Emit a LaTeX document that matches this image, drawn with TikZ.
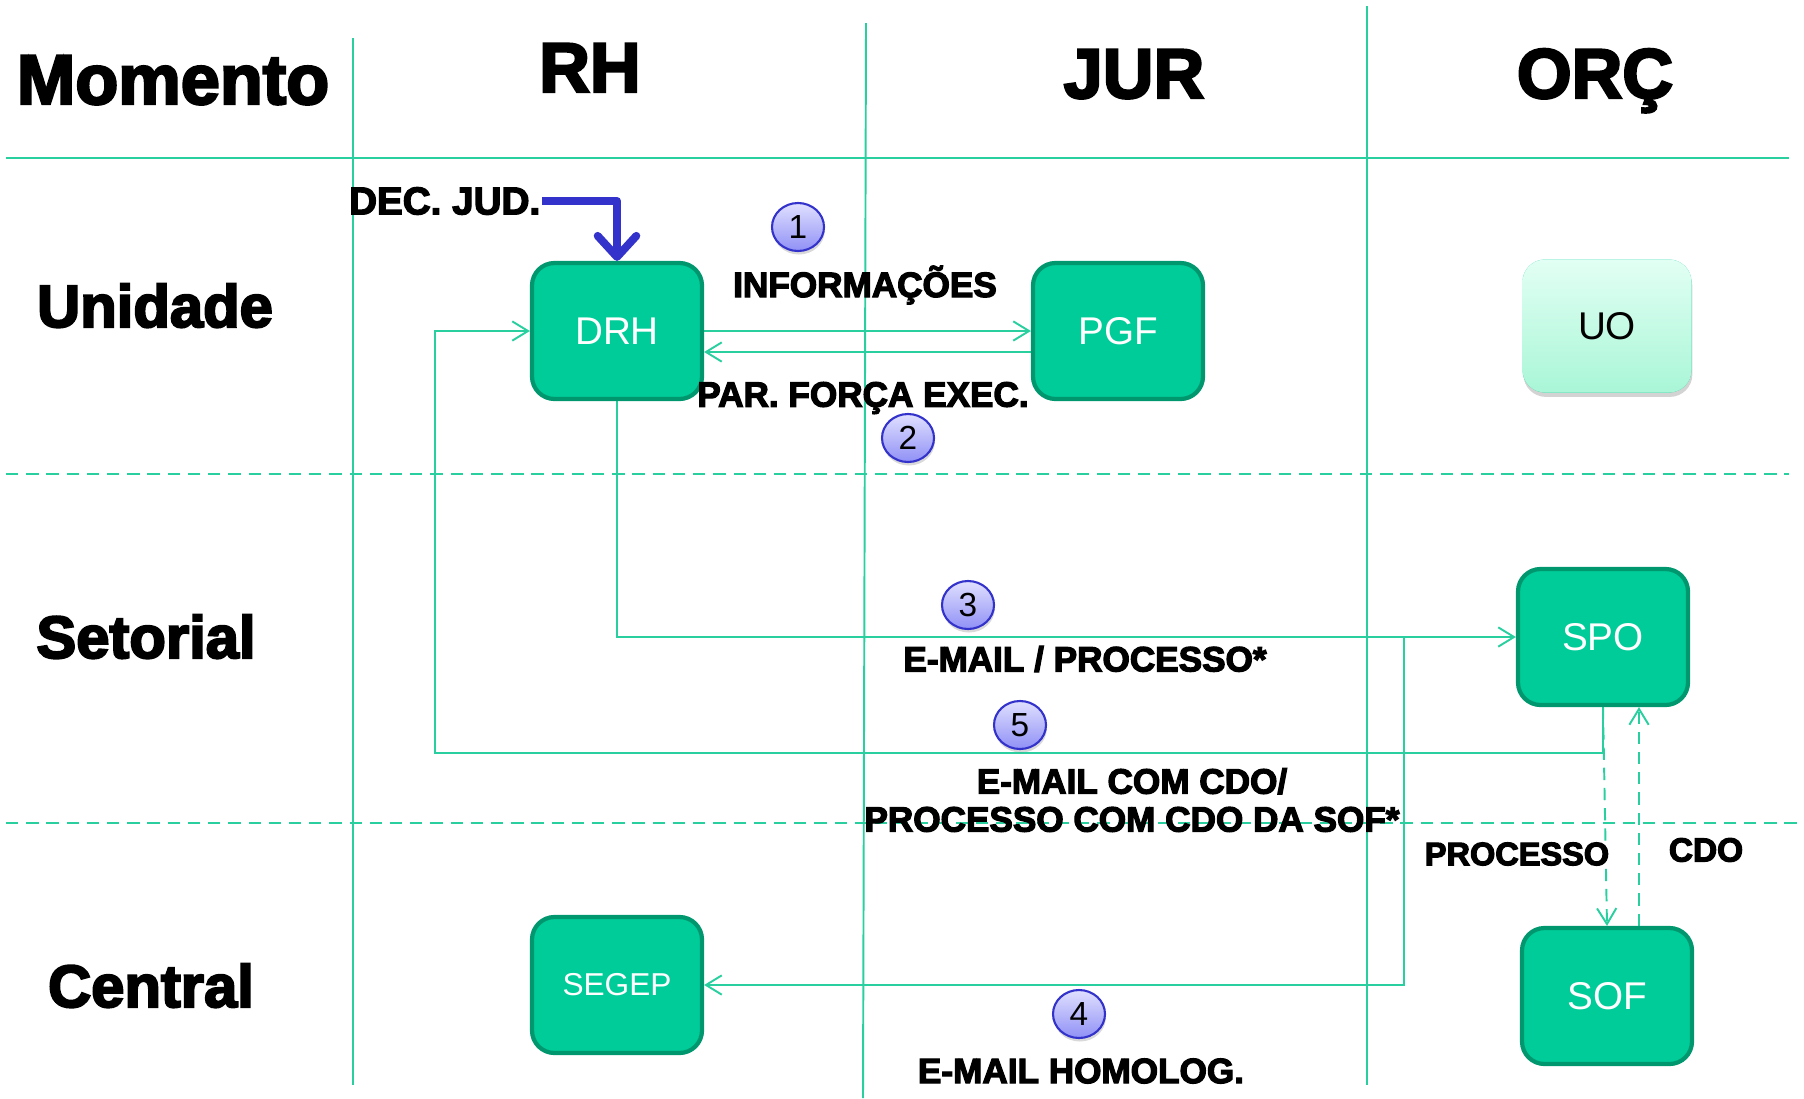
\documentclass[tikz,border=0pt]{standalone}
\usepackage{fontspec}
\setmainfont{Liberation Sans}
\newfontfamily\blackfont[FakeBold=3.5]{Liberation Sans Bold}
\usetikzlibrary{arrows.meta,shapes.geometric,shadows,backgrounds}
\definecolor{lanecolor}{HTML}{2ACF9F}
\definecolor{boxfill}{HTML}{00CC99}
\definecolor{boxline}{HTML}{00976E}
\definecolor{decblue}{HTML}{3333CC}
\definecolor{numtop}{HTML}{E0E0FF}
\definecolor{numbottom}{HTML}{9090F6}
\definecolor{uotop}{HTML}{E2FFF4}
\definecolor{uobottom}{HTML}{A9F6D7}
\newcommand{\thinline}{1.1pt}
\tikzset{
  lane/.style={draw=lanecolor, line width=\thinline},
  lanedash/.style={dash pattern=on 7pt off 4.5pt},
  flow/.style={draw=lanecolor, line width=\thinline, -{Straight Barb[length=9pt,width=11pt]}},
  procbox/.style={draw=boxline, fill=boxfill, line width=2.4pt, rounded corners=0.45cm,
    minimum width=3.4cm, minimum height=2.72cm, text=white, font=\fontsize{22}{24}\selectfont},
  stepnum/.style={ellipse, draw=decblue, line width=1.2pt, top color=numtop, bottom color=numbottom,
    minimum width=1.04cm, minimum height=0.96cm, inner sep=0pt,
    drop shadow={shadow xshift=0.5pt, shadow yshift=-2pt, opacity=0.3},
    font=\fontsize{19}{20}\selectfont},
  head/.style={font=\blackfont\fontsize{40}{44}\selectfont, anchor=base},
  rowname/.style={font=\blackfont\fontsize{34}{38}\selectfont, anchor=base},
  lbl/.style={font=\blackfont\fontsize{20}{21.6}\selectfont, align=center, inner sep=1pt}
}

\begin{document}
\begin{tikzpicture}
\useasboundingbox (0,0) rectangle (36.08,-21.96);
%heads
\node[head] (momento) at (3.46, -2.08) {Momento};
\node[head] (rh) at (11.80, -1.84) {RH};
\node[head] (jur) at (22.68, -1.96) {JUR};
\node[head] (orc) at (31.90, -1.96) {ORÇ};
\node[rowname] (unidade) at (3.10, -6.54) {Unidade};
\node[rowname] (setorial) at (2.92, -13.16) {Setorial};
\node[rowname] (central) at (3.02, -20.14) {Central};
%boxes
\node[procbox] (drh) at (12.34, -6.62) {DRH};
\node[procbox] (pgf) at (22.36, -6.62) {PGF};
\node[procbox] (spo) at (32.06, -12.74) {SPO};
\node[procbox, font=\fontsize{18}{20}\selectfont] (segep) at (12.34, -19.70) {SEGEP};
\node[procbox] (sof) at (32.14, -19.92) {SOF};
\node[procbox, draw=none, top color=uotop, bottom color=uobottom, text=black,
  minimum width=3.38cm, minimum height=2.66cm,
  drop shadow={shadow xshift=0.5pt, shadow yshift=-2.5pt, opacity=0.35}] (uo) at (32.14, -6.52) {UO};
%numbers
\node[stepnum] (c1) at (15.96, -4.54) {1};
\node[stepnum] (c2) at (18.16, -8.76) {2};
\node[stepnum] (c3) at (19.36, -12.10) {3};
\node[stepnum] (c4) at (21.58, -20.28) {4};
\node[stepnum] (c5) at (20.40, -14.50) {5};
%labels
\node[lbl, font=\blackfont\fontsize{22}{24}\selectfont, anchor=west] (decjud) at (6.94, -4.02) {DEC. JUD.};
\node[lbl] (info) at (17.30, -5.70) {INFORMAÇÕES};
\node[lbl] (parecer) at (17.26, -7.96) {PAR. FORÇA EXEC.};
\node[lbl] (email) at (21.70, -13.18) {E-MAIL / PROCESSO*};
\node[lbl] (emailcdo) at (22.64, -16.00) {E-MAIL COM CDO/\\PROCESSO COM CDO DA SOF*};
\node[lbl, font=\blackfont\fontsize{18.5}{20}\selectfont] (processo) at (30.34, -17.08) {PROCESSO};
\node[lbl, font=\blackfont\fontsize{19}{20}\selectfont] (cdo) at (34.12, -17.00) {CDO};
\node[lbl] (homolog) at (21.62, -21.42) {E-MAIL HOMOLOG.};
\coordinate (branch) at (28.08, -12.74);
\coordinate (back) at (8.70, -15.06);
\begin{scope}[on background layer]
%lanes
\draw[lane] (0.12, -3.16) -- (35.78, -3.16);
\draw[lane, lanedash] (0.12, -9.48) -- (35.78, -9.48);
\draw[lane, lanedash] (0.12, -16.46) -- (36.08, -16.46);
\draw[lane] (7.06, -0.76) -- (7.06, -21.70);
\draw[lane] (17.32, -0.46) -- (17.26, -21.96);
\draw[lane] (27.34, -0.12) -- (27.34, -21.70);
%flows
\draw[flow] (drh.east) -- (pgf.west);
\draw[flow] ([yshift=-0.42cm]pgf.west) -- ([yshift=-0.42cm]drh.east);
\draw[flow] (drh.south) |- (spo.west);
\draw[flow] (branch) |- (segep.east);
\draw[flow] (spo.south) |- (back) |- (drh.west);
\draw[flow, lanedash] (spo.south) -- (sof.north);
\draw[flow, lanedash] ([xshift=0.64cm]sof.north) -- ([xshift=0.64cm]sof.north |- spo.south);
\end{scope}
%dec. jud.
\draw[decblue, line width=4.5pt, line join=round,
  -{Straight Barb[length=12pt, width=22pt, round]}] (decjud.east) -| (drh.north);
\end{tikzpicture}
\end{document}
